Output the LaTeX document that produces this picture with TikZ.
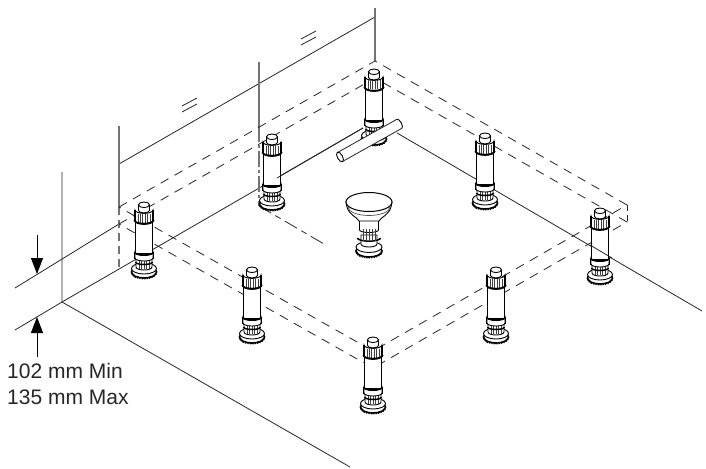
\documentclass[tikz,border=0pt]{standalone}
\usepackage{fontspec}
\setmainfont{Liberation Sans}
\usetikzlibrary{arrows.meta}
\tikzset{
  x=1pt,y=-1pt,
  line/.style={line width=0.8pt,draw=black!85},
  edge/.style={line width=1.1pt,draw=black!55},
  dashline/.style={line width=0.8pt,draw=black!85,dash pattern=on 9pt off 7pt},
  dimarrow/.style={line width=0.8pt,draw=black,-{Triangle[length=16pt,width=12pt]}},
  rib/.style={line width=1pt,draw=black!75},
  heavy/.style={line width=1.6pt,draw=black},
  shell/.style={line width=0.9pt,draw=black,fill=white},
  leg/.pic={
    % foot
    \path[shell,heavy] (0,70) ellipse [x radius=12.5,y radius=6];
    \draw[line width=2pt,black,dash pattern=on 1.2pt off 1.2pt] (-12,71) arc [start angle=180,end angle=0,x radius=12,y radius=5.5];
    \path[shell] (0,66.5) ellipse [x radius=12.5,y radius=5.5];
    % lower collar
    \path[shell] (-8,54) -- (-8,65) arc [start angle=180,end angle=0,x radius=8,y radius=3] -- (8,54) -- cycle;
    \foreach \q in {-5,-2.5,0,2.5,5} \draw[rib] (\q,56) -- (\q,66.5);
    \draw[line width=1.5pt,black] (-8.5,60) arc [start angle=180,end angle=0,x radius=8.5,y radius=2.5];
    % tube
    \path[shell,line width=1.1pt] (-8.5,19) -- (-8.5,52) -- (8.5,52) -- (8.5,19) -- cycle;
    % lower ring
    \path[shell] (-9,50) -- (-9,56) arc [start angle=180,end angle=0,x radius=9,y radius=3] -- (9,50) arc [start angle=0,end angle=180,x radius=9,y radius=3] -- cycle;
    \draw[heavy] (-9.5,50) arc [start angle=180,end angle=0,x radius=9.5,y radius=3.2];
    \draw[line width=1.5pt,black] (-9.5,50) -- (-9.5,57) (9.5,50) -- (9.5,57);
    % top collar
    \path[shell] (-9,8) -- (-9,19) arc [start angle=180,end angle=0,x radius=9,y radius=3.4] -- (9,8) arc [start angle=0,end angle=180,x radius=9,y radius=3.4] -- cycle;
    \foreach \q in {-6,-3.6,-1.2,1.2,3.6,6} \draw[rib] (\q,11.5) -- (\q,20.5);
    \draw[line width=1.3pt,black] (-9,8) -- (-9,19) (9,8) -- (9,19);
    \draw[heavy] (-9.8,18) arc [start angle=180,end angle=0,x radius=9.8,y radius=3.6];
    % knob
    \path[shell] (-5.5,2.8) -- (-5.5,8.5) arc [start angle=180,end angle=0,x radius=5.5,y radius=2.4] -- (5.5,2.8) -- cycle;
    \path[shell] (0,2.8) ellipse [x radius=5.5,y radius=2.8];
  },
  plug/.pic={
    \path[shell,heavy] (0,58) ellipse [x radius=13,y radius=6];
    \draw[line width=2pt,black,dash pattern=on 1.2pt off 1.2pt] (-12.5,59) arc [start angle=180,end angle=0,x radius=12.5,y radius=5.5];
    \path[shell] (0,54) ellipse [x radius=13,y radius=5.5];
    \path[shell] (-8,42) -- (-8,51) arc [start angle=180,end angle=0,x radius=8,y radius=3] -- (8,42) -- cycle;
    \draw[line width=1.5pt,black] (-11.5,45) arc [start angle=180,end angle=0,x radius=11.5,y radius=3.2];
    \path[shell] (-9.5,26) -- (-9.5,37) arc [start angle=180,end angle=0,x radius=9.5,y radius=2.5] -- (9.5,26) -- cycle;
    \foreach \q in {-6,-3,0,3,6} \draw[rib] (\q,36) -- (\q,48);
    \path[shell] (-23,9) -- (-22,14) .. controls (-20,22) and (-12,24) .. (-10,28) -- (10,28) .. controls (12,24) and (20,22) .. (22,14) -- (23,9) -- cycle;
    \draw[line width=0.7pt,black!70] (-21,14) arc [start angle=180,end angle=0,x radius=21,y radius=8.5];
    \path[shell,line width=1pt] (0,9) ellipse [x radius=23,y radius=9.5];
  }
}
\begin{document}
\begin{tikzpicture}
\useasboundingbox (0,0) rectangle (706,468);
\path[fill=white] (0,0) rectangle (706,468);
% named points
\coordinate (corner) at (62,302);
\coordinate (wallTop) at (62,172);
\coordinate (lowEnd) at (15,330);
\coordinate (floorEnd) at (350,467);
\coordinate (upA) at (15,288);
\coordinate (upB) at (119,224);
\coordinate (dL) at (119,207);
\coordinate (dB) at (375,61);
\coordinate (dR) at (627,205);
\coordinate (dF) at (373,351);
\coordinate (iL) at (119,224);
\coordinate (iB) at (375,78);
\coordinate (iR) at (627,222);
\coordinate (iF) at (373,368);
% walls and floor
\draw[line] (wallTop) -- (corner) -- (floorEnd);
\draw[line] (lowEnd) -- (corner) -- (363,128);
\draw[line] (upA) -- (upB);
\draw[line] (397,133) -- (702,311);
\draw[line] (119,164) -- (375,17);
% verticals
\draw[edge] (119,126) -- (dL);
\draw[edge,dash pattern=on 8pt off 5pt] (dL) -- (119,270);
\draw[edge] (259,62) -- (259,126);
\draw[edge,dash pattern=on 16pt off 3pt on 3pt off 3pt] (259,126) -- (259,206);
\draw[edge] (375,8) -- (dB);
% dash-dot on floor
\draw[line,dash pattern=on 14pt off 5pt on 6pt off 5pt] (259,206) -- (324,244);
% dashed outlines
\draw[dashline] (dL) -- (dB) -- (dR) -- (dF) -- cycle;
\draw[dashline] (iL) -- (iB) -- (iR) -- (iF) -- cycle;
\draw[line,dash pattern=on 6pt off 4pt] (dR) -- (iR);
\draw[line] (372,364) -- (372,369) (370.5,367) -- (372,369) -- (373.5,367);
% equal marks
\draw[line] (182,106) -- (197,98) (182,112) -- (197,104);
\draw[line] (301,39) -- (316,31) (301,45) -- (316,37);
% legs
\pic at (374,69) {leg};
\pic at (272,134) {leg};
\pic at (485,133) {leg};
\pic at (144,202) {leg};
\pic at (600,208) {leg};
\pic at (252,267) {leg};
\pic at (496,267) {leg};
\pic at (373,337) {leg};
\pic at (369,193) {plug};
% pieces of lines in front of tubes
\draw[line] (277,178) -- (363,128);
\draw[line] (590,245) -- (612,258);
% pipe
\path[shell] (399,124) ellipse [x radius=2.6,y radius=5.4,rotate=29];
\path[fill=white] (337.5,152.5) -- (396.5,119.5) -- (401.5,128.5) -- (342.5,161.5) -- cycle;
\draw[line] (337.5,152.5) -- (396.5,119.5) (342.5,161.5) -- (401.5,128.5);
\path[shell] (340,157) ellipse [x radius=2.6,y radius=5.4,rotate=29];
% dimension arrows
\coordinate (a1) at (37,235);
\coordinate (a2) at (37,274);
\coordinate (b1) at (37,357);
\coordinate (b2) at (37,317);
\draw[dimarrow] (a1) -- (a2);
\draw[dimarrow] (b1) -- (b2);
% text
\node[anchor=base west,inner sep=0pt,font=\fontsize{21}{24}\selectfont,text=black!85] (t1) at (7,378) {102 mm Min};
\node[anchor=base west,inner sep=0pt,font=\fontsize{21}{24}\selectfont,text=black!85] (t2) at (7,404) {135 mm Max};
\end{tikzpicture}
\end{document}
